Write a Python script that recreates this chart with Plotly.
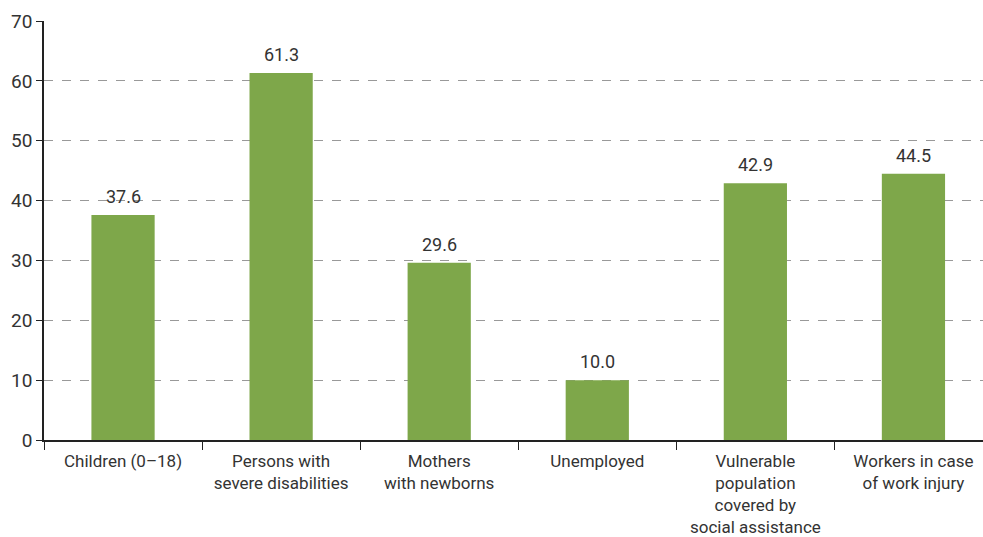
import plotly.graph_objects as go

categories = ["Children (0–18)", "Persons with<br>severe disabilities", "Mothers<br>with newborns",
              "Unemployed", "Vulnerable<br>population<br>covered by<br>social assistance",
              "Workers in case<br>of work injury"]
values = [37.6, 61.3, 29.6, 10.0, 42.9, 44.5]
y_ticks = [0, 10, 20, 30, 40, 50, 60, 70]

FONT = "Roboto, sans-serif"
TXT = "#333333"
FS = 17

fig = go.Figure(go.Bar(
    x=categories, y=values,
    marker=dict(color="#7ea74a", line=dict(width=0)),
    width=0.4,
    hoverinfo="skip",
))

for c, v in zip(categories, values):
    fig.add_annotation(x=c, y=v, text=f"{v:.1f}", showarrow=False,
                       yanchor="bottom", yshift=6,
                       font=dict(family=FONT, size=18, color=TXT))

fig.update_layout(
    width=983, height=537,
    margin=dict(l=44, r=0, t=21, b=97),
    plot_bgcolor="white", paper_bgcolor="white",
    showlegend=False,
    font=dict(family=FONT, size=FS, color=TXT),
)
fig.update_xaxes(
    range=[-0.5, 5.44], automargin=False, tickangle=0,
    showline=True, linecolor="#222", linewidth=1.5,
    ticks="outside", tickson="boundaries", ticklen=8, tickcolor="#222",
    tickfont=dict(family=FONT, size=FS, color=TXT),
    ticklabelstandoff=5,
    showgrid=False,
)
fig.update_yaxes(
    range=[0, 70], tickvals=y_ticks, automargin=False,
    showline=True, linecolor="#222", linewidth=1.5,
    ticks="outside", ticklen=6, tickcolor="#222",
    tickfont=dict(family=FONT, size=19, color=TXT),
    showgrid=True, gridcolor="#999", griddash="dash", gridwidth=1,
    zeroline=False,
)
fig.write_html("out.html")
